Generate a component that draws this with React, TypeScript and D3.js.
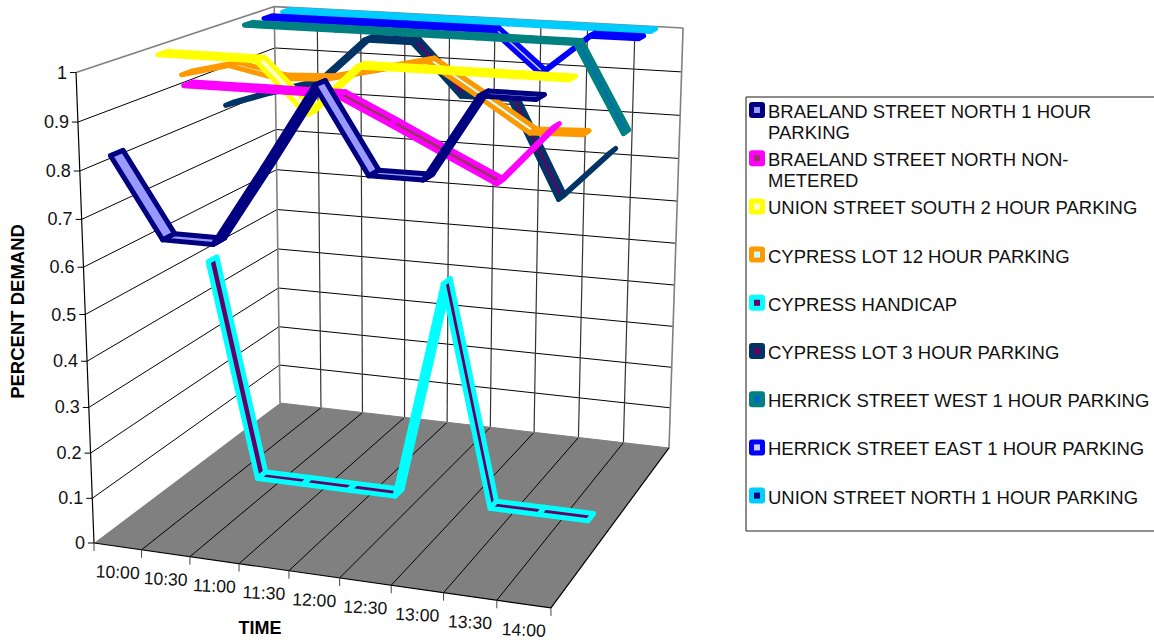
import React from "react";
import * as d3 from "d3";

const times = ["10:00", "10:30", "11:00", "11:30", "12:00", "12:30", "13:00", "13:30", "14:00"];
const valueTicks = [0, 0.1, 0.2, 0.3, 0.4, 0.5, 0.6, 0.7, 0.8, 0.9, 1];

const seriesNames = [
  "BRAELAND STREET NORTH 1 HOUR PARKING",
  "BRAELAND STREET NORTH NON-METERED",
  "UNION STREET SOUTH 2 HOUR PARKING",
  "CYPRESS LOT 12 HOUR PARKING",
  "CYPRESS HANDICAP",
  "CYPRESS LOT 3 HOUR PARKING",
  "HERRICK STREET WEST 1 HOUR PARKING",
  "HERRICK STREET EAST 1 HOUR PARKING",
  "UNION STREET NORTH 1 HOUR PARKING",
];
const legendLines = [
  ["BRAELAND STREET NORTH 1 HOUR", "PARKING"],
  ["BRAELAND STREET NORTH NON-", "METERED"],
  ["UNION STREET SOUTH 2 HOUR PARKING"],
  ["CYPRESS LOT 12 HOUR PARKING"],
  ["CYPRESS HANDICAP"],
  ["CYPRESS LOT 3 HOUR PARKING"],
  ["HERRICK STREET WEST 1 HOUR PARKING"],
  ["HERRICK STREET EAST 1 HOUR PARKING"],
  ["UNION STREET NORTH 1 HOUR PARKING"],
];

// 10:00 has no reading for the non-metered Braeland block.
const braelandNorth1h = [0.83, 0.665, 0.665, 0.83, 1, 0.83, 0.83, 1, 1];
const braelandNonMetered = [null, 0.96, 0.96, 0.96, 0.96, 0.91, 0.858, 0.807, 0.925];
const unionSouth2h = [1, 1, 1, 0.895, 1, 1, 1, 1, 1];
const cypress12h = [0.94, 0.966, 0.945, 0.95, 0.975, 1, 0.934, 0.866, 0.87];
const cypressHandicap = [0.5, 0, 0, 0, 0, 0.5, 0, 0, 0];
const cypress3h = [0.835, 0.87, 0.9, 1, 1, 0.89, 0.89, 0.68, 0.79];
const herrickWest1h = [1, 1, 1, 1, 1, 1, 1, 1, 0.81];
const herrickEast1h = [1, 1, 1, 1, 1, 1, 0.91, 1, 1];
const unionNorth1h = [1, 1, 1, 1, 1, 1, 1, 1, 1];
const seriesValues: (number | null)[][] = [
  braelandNorth1h, braelandNonMetered, unionSouth2h, cypress12h, cypressHandicap,
  cypress3h, herrickWest1h, herrickEast1h, unionNorth1h,
];

const edgeColors = ["#000080", "#FF00FF", "#FFFF00", "#FF9900", "#00FFFF", "#003366", "#008080", "#0000FF", "#00CCFF"];
const faceColors = ["#9999FF", "#993366", "#FFFFCC", "#CCFFFF", "#660066", "#660066", "#0066CC", "#CCCCFF", "#000080"];

// Perspective camera: homogeneous image of (time, value, depth) in the unit cube.
const origin = [94, 543, 1];
const timeDir = [418.4, 22.4, -0.07];
const valueDir = [-22.2, -474.5, -0.0557];
const depthDir = [240.9, -61, 0.196];
const project = (t: number, v: number, d: number): [number, number] => {
  const h = [0, 1, 2].map((k) => origin[k] + t * timeDir[k] + v * valueDir[k] + d * depthDir[k]);
  return [h[0] / h[2], h[1] / h[2]];
};

const timeScale = d3.scaleBand<string>().domain(times).range([0, 1]);
const depthScale = d3.scaleBand<string>().domain(seriesNames).range([0, 1]);
const valueScale = d3.scaleLinear().domain([0, 1]).range([0, 1]);

const STROKE = 5;
const FONT = "'Liberation Sans', Arial, sans-serif";
const polygon = d3.line<[number, number]>().curve(d3.curveLinearClosed);
const segment = d3.line<[number, number]>();

const timeEdges = d3.range(times.length + 1).map((i) => i * timeScale.step());

function Ribbon({ index }: { index: number }) {
  const dc = depthScale(seriesNames[index])! + depthScale.bandwidth() / 2;
  const ribbonDepth = index === 0 ? 0.5 : 0.42;
  const half = (depthScale.bandwidth() * ribbonDepth) / 2;
  const values = seriesValues[index];
  const quads = d3.pairs(d3.range(values.length)).flatMap(([i, j]) => {
    const a = values[i];
    const b = values[j];
    if (a === null || b === null) return [];
    const t0 = timeScale(times[i])! + timeScale.bandwidth() / 2;
    const t1 = timeScale(times[j])! + timeScale.bandwidth() / 2;
    const v0 = valueScale(a);
    const v1 = valueScale(b);
    return [{
      // A rising stretch shows the ribbon's underside, which takes the edge colour.
      rising: b > a,
      points: [
        project(t0, v0, dc - half),
        project(t1, v1, dc - half),
        project(t1, v1, dc + half),
        project(t0, v0, dc + half),
      ],
    }];
  });
  return (
    <g>
      {quads.map((q, i) => (
        <path
          key={i}
          d={polygon(q.points) ?? ""}
          fill={q.rising ? edgeColors[index] : faceColors[index]}
          stroke={edgeColors[index]}
          strokeWidth={STROKE}
          strokeLinejoin="round"
        />
      ))}
    </g>
  );
}

export default function App() {
  const wallLine = (a: [number, number], b: [number, number]) => segment([a, b]) ?? "";
  const floor = [project(0, 0, 0), project(1, 0, 0), project(1, 0, 1), project(0, 0, 1)];
  const leftTop = project(0, 1, 0);
  const backTopLeft = project(0, 1, 1);
  const backTopRight = project(1, 1, 1);
  const backBottomLeft = project(0, 0, 1);
  const backBottomRight = project(1, 0, 1);
  const frontLeft = project(0, 0, 0);
  const frontRight = project(1, 0, 0);

  return (
    <svg width={1154} height={640} style={{ position: "absolute", left: 0, top: 0, background: "#fff" }}>
      {/* floor */}
      <path d={polygon(floor) ?? ""} fill="#808080" />
      {timeEdges.slice(1, -1).map((t) => (
        <path key={t} d={wallLine(project(t, 0, 0), project(t, 0, 1))} stroke="#000" strokeWidth={1} fill="none" />
      ))}

      {/* value gridlines on the side and back walls */}
      {valueTicks.slice(1, -1).map((v) => (
        <g key={v} fill="none" stroke="#000" strokeWidth={1}>
          <path d={wallLine(project(0, valueScale(v), 0), project(0, valueScale(v), 1))} />
          <path d={wallLine(project(0, valueScale(v), 1), project(1, valueScale(v), 1))} />
        </g>
      ))}
      {timeEdges.slice(1, -1).map((t) => (
        <path key={t} d={wallLine(project(t, 0, 1), project(t, 1, 1))} stroke="#333" strokeWidth={1.2} fill="none" />
      ))}

      {/* wall outline */}
      <g fill="none" stroke="#808080" strokeWidth={1.6}>
        <path d={wallLine(leftTop, backTopLeft)} />
        <path d={wallLine(backTopLeft, backTopRight)} />
        <path d={wallLine(backTopRight, backBottomRight)} />
        <path d={wallLine(backTopLeft, backBottomLeft)} />
        <path d={wallLine(backBottomLeft, backBottomRight)} strokeWidth={1} />
      </g>

      {/* axes */}
      <g fill="none" stroke="#000" strokeWidth={1.2}>
        <path d={wallLine(frontLeft, leftTop)} />
        <path d={wallLine(frontLeft, frontRight)} />
        <path d={wallLine(frontRight, backBottomRight)} />
      </g>
      {valueTicks.map((v) => {
        const [x, y] = project(0, valueScale(v), 0);
        return (
          <g key={v}>
            <line x1={x - 6} x2={x} y1={y} y2={y} stroke="#000" strokeWidth={1} />
            <text x={x - 9} y={y + 6} textAnchor="end" fontFamily={FONT} fontSize={18} fill="#111">
              {v}
            </text>
          </g>
        );
      })}
      {timeEdges.map((t) => {
        const [x, y] = project(t, 0, 0);
        return <line key={t} x1={x} x2={x} y1={y} y2={y + 8} stroke="#444" strokeWidth={1} />;
      })}
      {times.map((label) => {
        const [x, y] = project(timeScale(label)! + timeScale.bandwidth() / 2, 0, 0);
        return (
          <text
            key={label}
            transform={`translate(${x},${y + 25.5}) rotate(2.5)`}
            dy="0.36em"
            textAnchor="middle"
            fontFamily={FONT}
            fontSize={17.6}
            fill="#111"
          >
            {label}
          </text>
        );
      })}
      <text x={260} y={634} textAnchor="middle" fontFamily={FONT} fontSize={18} fontWeight="bold" fill="#000">
        TIME
      </text>
      <text
        transform="translate(24,311.5) rotate(-90)"
        textAnchor="middle"
        fontFamily={FONT}
        fontSize={18.5}
        fontWeight="bold"
        fill="#000"
      >
        PERCENT DEMAND
      </text>

      {/* series ribbons, far to near */}
      {d3.range(seriesNames.length - 1, -1, -1).map((j) => (
        <Ribbon key={j} index={j} />
      ))}

      {/* legend */}
      <g fill="none">
        <line x1={746} x2={1154} y1={97} y2={97} stroke="#666" strokeWidth={1.5} />
        <line x1={746} x2={746} y1={97} y2={531} stroke="#666" strokeWidth={1.5} />
        <line x1={746} x2={1154} y1={531} y2={531} stroke="#222" strokeWidth={1} />
      </g>
      {seriesNames.map((name, j) => {
        const cy = 110 + j * 48.2;
        return (
          <g key={name}>
            <rect x={749} y={cy - 8} width={16} height={16} rx={3} fill={edgeColors[j]} />
            <rect x={754} y={cy - 3} width={6} height={6} fill={faceColors[j]} />
            {legendLines[j].map((line, k) => (
              <text key={line} x={768} y={cy + 8 + k * 21} fontFamily={FONT} fontSize={18.5} fill="#111">
                {line}
              </text>
            ))}
          </g>
        );
      })}
    </svg>
  );
}
